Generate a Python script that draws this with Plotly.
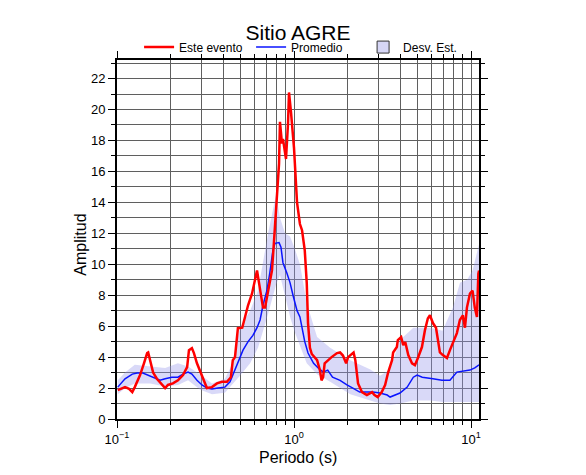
import plotly.graph_objects as go

# Este evento (registro del sismo)
evento_periodo = [
    0.101, 0.111, 0.117, 0.122, 0.126, 0.135, 0.142, 0.148, 0.150, 0.156,
    0.160, 0.168, 0.180, 0.187, 0.194, 0.207, 0.221, 0.236, 0.249, 0.255,
    0.265, 0.272, 0.283, 0.294, 0.306, 0.322, 0.344, 0.367, 0.392, 0.418,
    0.440, 0.451, 0.464, 0.482, 0.510, 0.529, 0.550, 0.579, 0.602, 0.618,
    0.626, 0.651, 0.668, 0.686, 0.713, 0.751, 0.771, 0.801, 0.823, 0.833,
    0.855, 0.866, 0.901, 0.925, 0.937, 0.962, 0.987, 1.00, 1.04, 1.08,
    1.11, 1.15, 1.18, 1.20, 1.23, 1.26, 1.35, 1.40, 1.43, 1.46,
    1.49, 1.55, 1.63, 1.75, 1.82, 1.89, 1.97, 2.02, 2.13, 2.17,
    2.22, 2.27, 2.30, 2.42, 2.58, 2.76, 2.85, 2.97, 3.13, 3.27,
    3.40, 3.58, 3.63, 3.81, 3.86, 4.03, 4.14, 4.25, 4.42, 4.64,
    4.82, 5.01, 5.28, 5.49, 5.70, 5.86, 6.09, 6.34, 6.50, 6.67,
    6.93, 7.31, 7.60, 7.90, 8.32, 8.65, 8.99, 9.24, 9.48, 9.86,
    10.2, 10.5, 10.8, 11.0, 11.1,
]
evento_amp = [
    1.87, 2.06, 1.95, 1.74, 2.06, 2.84, 3.6, 4.26, 4.3, 3.6,
    3.0, 2.6, 2.2, 2.0, 2.2, 2.3, 2.5, 2.84, 3.35, 4.45,
    4.58, 4.26, 3.6, 3.16, 2.7, 2.0, 2.06, 2.3, 2.4, 2.4,
    2.7, 3.8, 4.0, 5.87, 5.9, 6.7, 7.35, 8.1, 9.1, 9.6,
    9.2, 8.1, 7.2, 7.2, 8.3, 9.6, 11.5, 14.1, 16.5, 19.2,
    17.8, 18.1, 16.8, 19.1, 21.1, 19.8, 18.5, 17.5, 14.0, 12.6,
    12.2, 10.9, 8.8, 6.2, 4.6, 4.2, 3.8, 3.16, 2.5, 2.7,
    3.6, 3.8, 4.0, 4.26, 4.3, 4.1, 3.6, 4.0, 4.26, 4.3,
    3.8, 2.97, 2.3, 1.74, 1.55, 1.74, 1.55, 1.42, 1.74, 2.2,
    3.0, 3.8, 4.3, 4.65, 5.1, 5.3, 4.77, 4.97, 4.13, 3.6,
    3.48, 3.94, 4.65, 5.74, 6.5, 6.7, 6.2, 5.9, 5.2, 4.3,
    4.13, 3.94, 4.45, 4.9, 5.55, 6.4, 6.7, 5.9, 7.2, 8.1,
    8.3, 7.2, 6.6, 9.4, 9.6,
]

# Promedio
prom_periodo = [
    0.101, 0.111, 0.122, 0.130, 0.140, 0.150, 0.164, 0.175, 0.187, 0.204,
    0.221, 0.236, 0.252, 0.265, 0.283, 0.302, 0.322, 0.344, 0.372, 0.407,
    0.435, 0.458, 0.482, 0.515, 0.550, 0.586, 0.618, 0.643, 0.668, 0.703,
    0.731, 0.760, 0.781, 0.823, 0.844, 0.866, 0.913, 0.950, 0.987, 1.04,
    1.08, 1.11, 1.15, 1.20, 1.29, 1.37, 1.46, 1.55, 1.65, 1.82,
    1.99, 2.15, 2.35, 2.58, 2.79, 3.06, 3.36, 3.49, 3.97, 4.36,
    4.72, 4.96, 5.30, 6.09, 6.85, 7.60, 8.32, 9.86, 10.5, 11.1,
]
prom_amp = [
    2.06, 2.6, 2.9, 2.97, 2.97, 2.84, 2.65, 2.5, 2.6, 2.7,
    2.7, 2.9, 3.03, 2.9, 2.5, 2.2, 2.0, 1.94, 2.0, 2.06,
    2.4, 3.03, 3.7, 4.45, 5.0, 5.4, 5.9, 6.4, 7.35, 8.3,
    9.5, 10.9, 11.35, 11.4, 11.1, 10.1, 9.4, 8.8, 8.0, 7.0,
    6.6, 5.9, 5.0, 4.26, 3.6, 3.3, 3.03, 3.16, 2.7, 2.5,
    2.2, 2.0, 1.74, 1.74, 1.74, 1.68, 1.55, 1.42, 1.68, 2.06,
    2.7, 2.84, 2.7, 2.6, 2.5, 2.5, 3.03, 3.16, 3.3, 3.5,
]

# Desviacion estandar (banda)
banda_periodo = [
    0.101, 0.111, 0.126, 0.154, 0.187, 0.221, 0.252, 0.294, 0.344, 0.407,
    0.446, 0.495, 0.565, 0.626, 0.714, 0.792, 0.833, 0.890, 0.950, 1.01,
    1.08, 1.18, 1.35, 1.60, 2.08, 2.70, 3.06, 3.49, 3.97, 4.72,
    5.87, 6.90, 7.90, 8.66, 9.50, 10.2, 11.1,
]
banda_sup = [
    2.5, 3.0, 3.5, 3.4, 3.3, 3.6, 3.4, 2.9, 2.3, 2.6,
    3.5, 5.9, 7.0, 8.3, 12.0, 14.5, 13.0, 12.0, 11.8, 11.0,
    10.0, 7.5, 5.3, 4.6, 3.8, 3.2, 2.8, 3.2, 5.1, 5.9,
    5.9, 5.7, 7.2, 8.8, 9.0, 9.6, 11.3,
]
banda_inf = [
    1.6, 2.0, 2.3, 2.3, 2.1, 2.2, 2.5, 1.9, 1.6, 1.7,
    2.2, 2.8, 3.6, 4.6, 6.8, 8.7, 9.3, 8.0, 6.6, 5.6,
    4.8, 3.6, 2.9, 2.4, 1.6, 1.2, 1.0, 0.9, 1.0, 1.2,
    1.2, 1.1, 1.1, 1.1, 1.1, 1.1, 1.1,
]

x_ticks = [0.1, 1, 10]
x_labels = ["10<sup>\u22121</sup>", "10<sup>0</sup>", "10<sup>1</sup>"]
x_minor = [m * d for d in (0.1, 1) for m in range(2, 10)]

banda_color = "rgba(150,150,235,0.36)"
grid_color = "#5f5f5f"

fig = go.Figure()

# banda sombreada
fig.add_trace(go.Scatter(
    x=banda_periodo + banda_periodo[::-1],
    y=banda_sup + banda_inf[::-1],
    fill="toself",
    fillcolor=banda_color,
    line=dict(width=0),
    mode="lines",
    hoverinfo="skip",
    showlegend=False,
))

fig.add_trace(go.Scatter(
    x=prom_periodo, y=prom_amp, mode="lines", name="Promedio",
    line=dict(color="#0a14ff", width=1.5), legendrank=2,
))

fig.add_trace(go.Scatter(
    x=evento_periodo, y=evento_amp, mode="lines", name="Este evento",
    line=dict(color="#ff0000", width=2.5), legendrank=1,
))

# solo para la leyenda (cuadro con borde)
fig.add_trace(go.Scatter(
    x=[None], y=[None], mode="markers", name="Desv. Est.",
    marker=dict(symbol="square", size=12, color="rgb(214,214,246)",
                line=dict(color="#333333", width=1)),
    legendrank=3,
))

# la pagina agrega 8 px de margen, la figura se hace 8 px mas chica
fig.update_layout(
    width=578,
    height=467,
    margin=dict(l=109, r=107, t=52, b=56),
    paper_bgcolor="white",
    plot_bgcolor="white",
    font=dict(family="Liberation Sans, Arial, sans-serif", color="black"),
    title=dict(
        text="Sitio AGRE", x=0.5, xref="paper", xanchor="center",
        y=1 - 25 / 467, yanchor="middle", font=dict(size=21),
    ),
    legend=dict(
        orientation="h", x=0.061, xanchor="left", y=1.036, yanchor="middle",
        font=dict(size=12), bgcolor="rgba(0,0,0,0)", itemwidth=30,
        entrywidth=67, traceorder="normal",
    ),
    showlegend=True,
    annotations=[
        dict(text="Amplitud", xref="paper", yref="paper", x=-0.1, y=0.485,
             xanchor="center", yanchor="middle", textangle=-90,
             showarrow=False, font=dict(size=16)),
        dict(text="Periodo (s)", xref="paper", yref="paper", x=0.5, y=-0.106,
             xanchor="center", yanchor="middle",
             showarrow=False, font=dict(size=16)),
    ],
)

fig.update_xaxes(
    type="log",
    range=[-1, 1.045],
    automargin=False,
    tickmode="array",
    tickvals=x_ticks,
    ticktext=x_labels,
    ticks="outside",
    ticklen=7,
    tickcolor="black",
    tickfont=dict(size=13),
    showline=True,
    linewidth=2,
    linecolor="black",
    mirror="allticks",
    showgrid=True,
    gridcolor=grid_color,
    gridwidth=1,
    zeroline=False,
    minor=dict(tickvals=x_minor, ticks="outside", ticklen=4, tickcolor="black",
               showgrid=True, gridcolor=grid_color, gridwidth=1),
)

fig.update_yaxes(
    range=[0, 23.2],
    automargin=False,
    tick0=0,
    dtick=2,
    ticks="outside",
    ticklen=7,
    tickcolor="black",
    tickfont=dict(size=13),
    showline=True,
    linewidth=2,
    linecolor="black",
    mirror="allticks",
    showgrid=True,
    gridcolor=grid_color,
    gridwidth=1,
    zeroline=False,
    minor=dict(dtick=1, ticks="outside", ticklen=4, tickcolor="black",
               showgrid=True, gridcolor=grid_color, gridwidth=1),
)

fig.write_html("out.html")
